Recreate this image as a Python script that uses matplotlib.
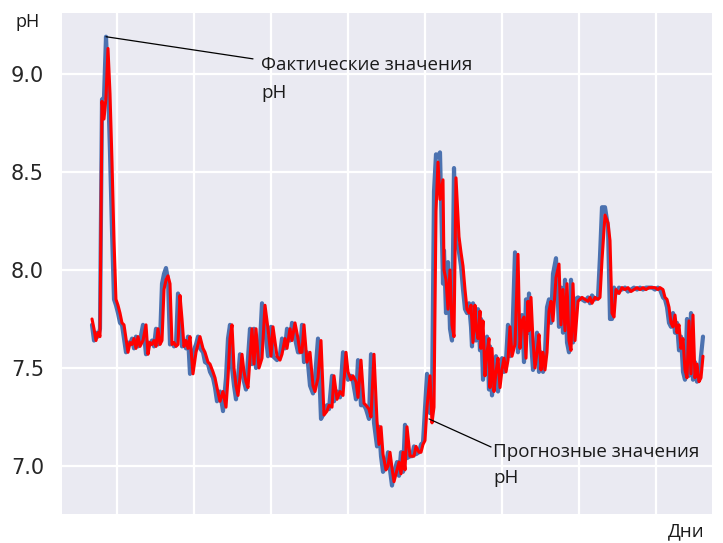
import matplotlib
matplotlib.use("Agg")
import matplotlib.pyplot as plt
from matplotlib.ticker import MultipleLocator, NullFormatter
import seaborn as sns

sns.set_theme(style="darkgrid")
plt.rcParams['font.family'] = ['DejaVu Sans']

day = [92,94,96,98,100,102,104,106,108,110,
       112,114,116,118,120,122,124,126,128,130,
       132,134,136,138,140,143,146,148,150,152,
       154,156,158,160,162,164,166,168,170,172,
       174,176,178,180,182,184,186,188,190,193,
       196,198,200,203,205,208,210,213,215,217,
       220,223,226,228,230,232,234,236,238,240,
       242,244,246,248,250,252,254,256,259,262,
       265,268,271,273,277,280,282,285,287,290,
       292,295,298,300,302,304,307,310,313,315,
       318,321,324,327,329,332,334,337,340,343,
       346,348,351,353,356,358,361,364,366,369,
       371,374,377,379,381,383,386,388,390,392,
       394,397,399,401,403,405,407,410,412,414,
       416,419,421,423,425,427,430,432,434,436,
       438,440,443,444,446,448,450,452,454,456,
       459,461,463,465,467,469,471,472,473,475,
       476,478,480,481,483,485,487,489,490,492,
       494,496,498,500,502,504,506,508,510,512,
       515,518,520,522,524,526,528,529,531,533,
       535,537,539,541,543,545,547,549,551,553,
       556,559,561,563,565,567,569,571,573,575,
       578,582,585,588,590,592,595,598,600,602,
       605,608,610,612,614,616,619,622,625,628,
       631,634,637,640,643,646,649,652,655,658,
       660,663,665,667,669,671,673,675,677,679,
       681,683,685,687,689,691,693,695,697,699,
       701,703]

ph_actual = [7.72,7.64,7.68,7.66,7.70,8.87,8.88,9.19,8.95,8.60,
             8.20,7.85,7.82,7.78,7.73,7.72,7.65,7.58,7.63,7.62,
             7.65,7.60,7.66,7.61,7.64,7.72,7.57,7.63,7.62,7.64,
             7.61,7.70,7.62,7.64,7.93,7.98,8.01,7.95,7.62,7.63,
             7.61,7.62,7.88,7.75,7.61,7.64,7.60,7.66,7.47,7.58,
             7.62,7.66,7.60,7.58,7.53,7.52,7.48,7.45,7.40,7.33,
             7.38,7.28,7.45,7.65,7.72,7.50,7.41,7.34,7.45,7.57,
             7.48,7.43,7.39,7.55,7.70,7.52,7.70,7.50,7.53,7.83,
             7.70,7.56,7.71,7.56,7.54,7.57,7.65,7.60,7.70,7.64,
             7.73,7.65,7.58,7.58,7.72,7.53,7.58,7.41,7.37,7.45,
             7.65,7.24,7.27,7.31,7.29,7.46,7.33,7.38,7.35,7.58,
             7.48,7.44,7.46,7.43,7.34,7.54,7.31,7.31,7.29,7.24,
             7.57,7.22,7.10,7.20,7.05,6.97,7.00,7.07,6.98,6.90,
             6.97,7.02,6.95,7.07,6.97,7.21,7.04,7.05,7.05,7.10,
             7.06,7.07,7.11,7.12,7.30,7.47,7.27,7.31,8.40,8.59,
             8.58,8.60,7.93,8.10,7.78,8.04,7.70,7.64,8.52,8.15,
             8.09,8.02,7.90,7.80,7.78,7.83,7.71,7.61,7.83,7.71,
             7.64,7.80,7.59,7.75,7.44,7.58,7.66,7.39,7.61,7.36,
             7.48,7.56,7.38,7.49,7.55,7.48,7.54,7.72,7.56,7.61,
             8.09,7.58,7.75,7.77,7.53,7.85,7.68,7.88,7.64,7.49,
             7.58,7.68,7.48,7.58,7.48,7.58,7.81,7.85,7.73,7.98,
             8.06,7.71,7.91,7.68,7.95,7.63,7.58,7.95,7.63,7.85,
             7.86,7.85,7.84,7.86,7.83,7.87,7.85,7.86,8.07,8.32,
             8.32,8.22,7.75,7.75,7.91,7.88,7.91,7.90,7.91,7.89,
             7.90,7.91,7.90,7.91,7.90,7.91,7.91,7.91,7.90,7.91,
             7.90,7.86,7.85,7.81,7.73,7.71,7.78,7.68,7.73,7.59,
             7.66,7.48,7.44,7.75,7.46,7.78,7.44,7.53,7.43,7.44,
             7.56,7.66]

ph_forecast = [7.75,7.70,7.64,7.68,7.66,8.86,8.77,8.88,9.13,8.90,
               8.55,8.15,7.85,7.82,7.78,7.73,7.72,7.65,7.58,7.63,
               7.62,7.65,7.60,7.66,7.61,7.64,7.72,7.57,7.63,7.62,
               7.64,7.61,7.70,7.62,7.64,7.90,7.95,7.97,7.93,7.62,
               7.63,7.61,7.62,7.87,7.75,7.61,7.64,7.60,7.66,7.47,
               7.58,7.62,7.66,7.60,7.58,7.53,7.52,7.48,7.45,7.40,
               7.33,7.38,7.30,7.45,7.65,7.72,7.50,7.41,7.36,7.45,
               7.57,7.48,7.43,7.40,7.55,7.70,7.52,7.70,7.50,7.55,
               7.82,7.70,7.56,7.71,7.56,7.54,7.57,7.65,7.60,7.70,
               7.64,7.73,7.65,7.58,7.58,7.72,7.53,7.58,7.41,7.38,
               7.45,7.64,7.26,7.28,7.31,7.30,7.46,7.34,7.38,7.36,
               7.58,7.48,7.44,7.46,7.43,7.35,7.54,7.32,7.31,7.29,
               7.25,7.57,7.23,7.11,7.20,7.06,6.98,7.00,7.07,6.99,
               6.92,6.98,7.02,6.96,7.07,6.98,7.20,7.05,7.05,7.05,
               7.10,7.07,7.07,7.11,7.13,7.30,7.46,7.22,7.30,8.30,
               8.55,8.36,8.46,8.00,7.95,7.80,8.00,7.72,7.66,8.47,
               8.17,8.09,8.02,7.90,7.80,7.78,7.82,7.72,7.63,7.82,
               7.71,7.65,7.79,7.60,7.74,7.46,7.58,7.65,7.40,7.60,
               7.38,7.48,7.55,7.40,7.49,7.55,7.48,7.54,7.71,7.56,
               7.62,8.08,7.60,7.74,7.76,7.55,7.84,7.69,7.86,7.64,
               7.50,7.58,7.67,7.49,7.58,7.49,7.58,7.79,7.84,7.74,
               7.96,8.03,7.72,7.90,7.69,7.93,7.64,7.59,7.93,7.64,
               7.84,7.86,7.85,7.84,7.86,7.83,7.86,7.85,7.86,8.05,
               8.28,8.24,8.15,7.78,7.76,7.90,7.88,7.91,7.90,7.91,
               7.89,7.90,7.91,7.90,7.91,7.90,7.91,7.91,7.91,7.90,
               7.91,7.90,7.86,7.85,7.81,7.73,7.71,7.77,7.68,7.72,
               7.60,7.65,7.49,7.45,7.74,7.47,7.77,7.45,7.52,7.43,
               7.45,7.56]

y_ticks = [7.0, 7.5, 8.0, 8.5, 9.0]
label_actual = "Фактические значения\npH"
label_forecast = "Прогнозные значения\npH"

fig = plt.figure(figsize=(7.23, 5.43), dpi=100)
ax = fig.add_axes([62/723, 1-514/543, (712-62)/723, (514-13)/543])
ax.set_facecolor("#EAEAF2")
for s in ax.spines.values():
    s.set_visible(False)
ax.grid(True, color="white", linewidth=1.6)

ax.plot(day, ph_actual, color="#4C72B0", linewidth=3.0, zorder=2)
ax.plot(day, ph_forecast, color="#FF0000", linewidth=2.2, zorder=3)

ax.set_xlim(62, 712)
ax.set_ylim(6.755, 9.311)
ax.xaxis.set_major_locator(MultipleLocator(77, offset=117))
ax.xaxis.set_major_formatter(NullFormatter())
ax.set_yticks(y_ticks)
ax.set_yticklabels([f"{v:.1f}" for v in y_ticks])
ax.tick_params(axis='y', labelsize=15, pad=13, length=0, labelcolor="#262626")
ax.tick_params(axis='x', length=0)

fam = ['Open Sans', 'DejaVu Sans']
imax = ph_actual.index(max(ph_actual))
ax.annotate("", xy=(day[imax], ph_actual[imax]), xytext=(253, 9.077),
            arrowprops=dict(arrowstyle='-', color='black', lw=0.9, shrinkA=0, shrinkB=0))
ax.text(261, 8.974, label_actual, fontsize=13.5, family=fam, color="#1a1a1a",
        ha='left', va='center', linespacing=1.68)

ax.annotate("", xy=(429, 7.24), xytext=(491, 7.097),
            arrowprops=dict(arrowstyle='-', color='black', lw=0.9, shrinkA=0, shrinkB=0))
ax.text(493, 7.005, label_forecast, fontsize=13.5, family=fam, color="#1a1a1a",
        ha='left', va='center', linespacing=1.56)

fig.text(28/723, 1-22/543, "pH", fontsize=13, family=fam, color="#1a1a1a",
         ha='center', va='center')
fig.text(686/723, 1-531/543, "Дни", fontsize=13.5, family=fam, color="#1a1a1a",
         ha='center', va='center')

fig.savefig("out.png", dpi=100, facecolor="white")
